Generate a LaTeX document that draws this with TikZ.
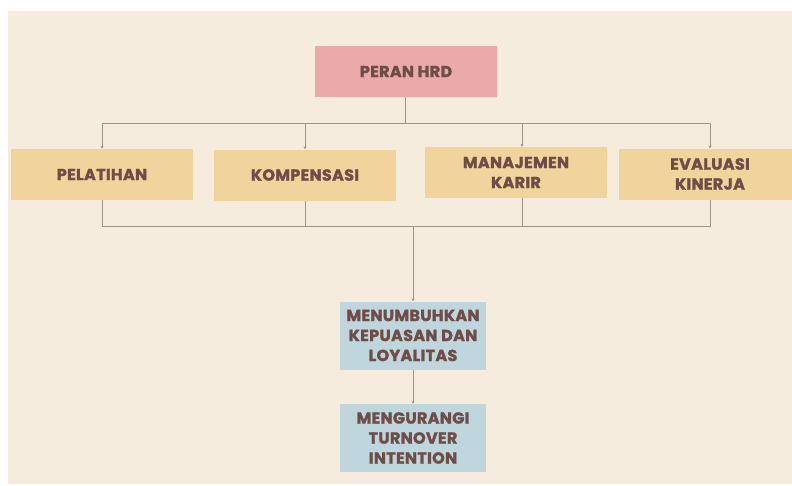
\documentclass[tikz,border=0pt]{standalone}
\usepackage{fontspec}
\setmainfont{Poppins}[BoldFeatures={FakeBold=1.6,LetterSpace=2}]
\usepackage{tikz}
\usetikzlibrary{arrows.meta,calc}
\definecolor{BgKrem}{HTML}{F5ECDD}
\definecolor{KotakPink}{HTML}{E9AAA9}
\definecolor{KotakTan}{HTML}{F0D49B}
\definecolor{KotakBiru}{HTML}{BFD6DC}
\definecolor{TeksCoklat}{HTML}{6E4C47}
\definecolor{GarisAbu}{HTML}{A09488}

\begin{document}
\begin{tikzpicture}[x=1pt,y=-1pt,
  kotak/.style={inner sep=0pt, align=center, text=TeksCoklat,
    font=\fontsize{16}{20}\selectfont\bfseries},
  peranbox/.style={kotak, fill=KotakPink, minimum width=182pt, minimum height=51pt},
  aspek/.style={kotak, fill=KotakTan, minimum width=182pt, minimum height=51pt},
  hasil/.style={kotak, fill=KotakBiru, minimum width=146pt, minimum height=68pt},
  garis/.style={GarisAbu, line width=1pt},
  panah/.style={garis, -{Stealth[length=3pt,width=3pt]}}]
  \useasboundingbox (0,0) rectangle (792,485);
  \fill[white] (0,0) rectangle (792,485);
  \fill[BgKrem] (8,11) rectangle (792,484);
  \clip (8,11) rectangle (792,484);
  % boxes
  \node[peranbox] (peran) at (406,71.5) {PERAN HRD};
  \node[aspek] (pelatihan) at (102,174.5) {PELATIHAN};
  \node[aspek] (kompensasi) at (305,175) {KOMPENSASI};
  \node[aspek] (karir) at (516,172.5) {MANAJEMEN\\KARIR};
  \node[aspek] (evaluasi) at (710,174) {EVALUASI\\KINERJA};
  \node[hasil] (puas) at (413,335.5) {MENUMBUHKAN\\KEPUASAN DAN\\LOYALITAS};
  \node[hasil] (turnover) at (413,438) {MENGURANGI\\TURNOVER\\INTENTION};
  % top bus
  \coordinate (atas) at (405,123);
  \draw[garis] (peran.south -| atas) -- (atas);
  \draw[panah] (atas) -| (pelatihan.north);
  \draw[panah] (atas) -| (kompensasi.north);
  \draw[panah] (atas) -| ([xshift=6pt]karir.north);
  \draw[panah] (atas) -| (evaluasi.north);
  % bottom bus
  \coordinate (bawah) at (413,226);
  \draw[garis] (pelatihan.south) |- (bawah);
  \draw[garis] (kompensasi.south) |- (bawah);
  \draw[garis] ([xshift=6pt]karir.south) |- (bawah);
  \draw[garis] (evaluasi.south) |- (bawah);
  \draw[panah] (bawah) -- (puas.north);
  \draw[panah] (puas.south) -- (turnover.north);
\end{tikzpicture}
\end{document}
